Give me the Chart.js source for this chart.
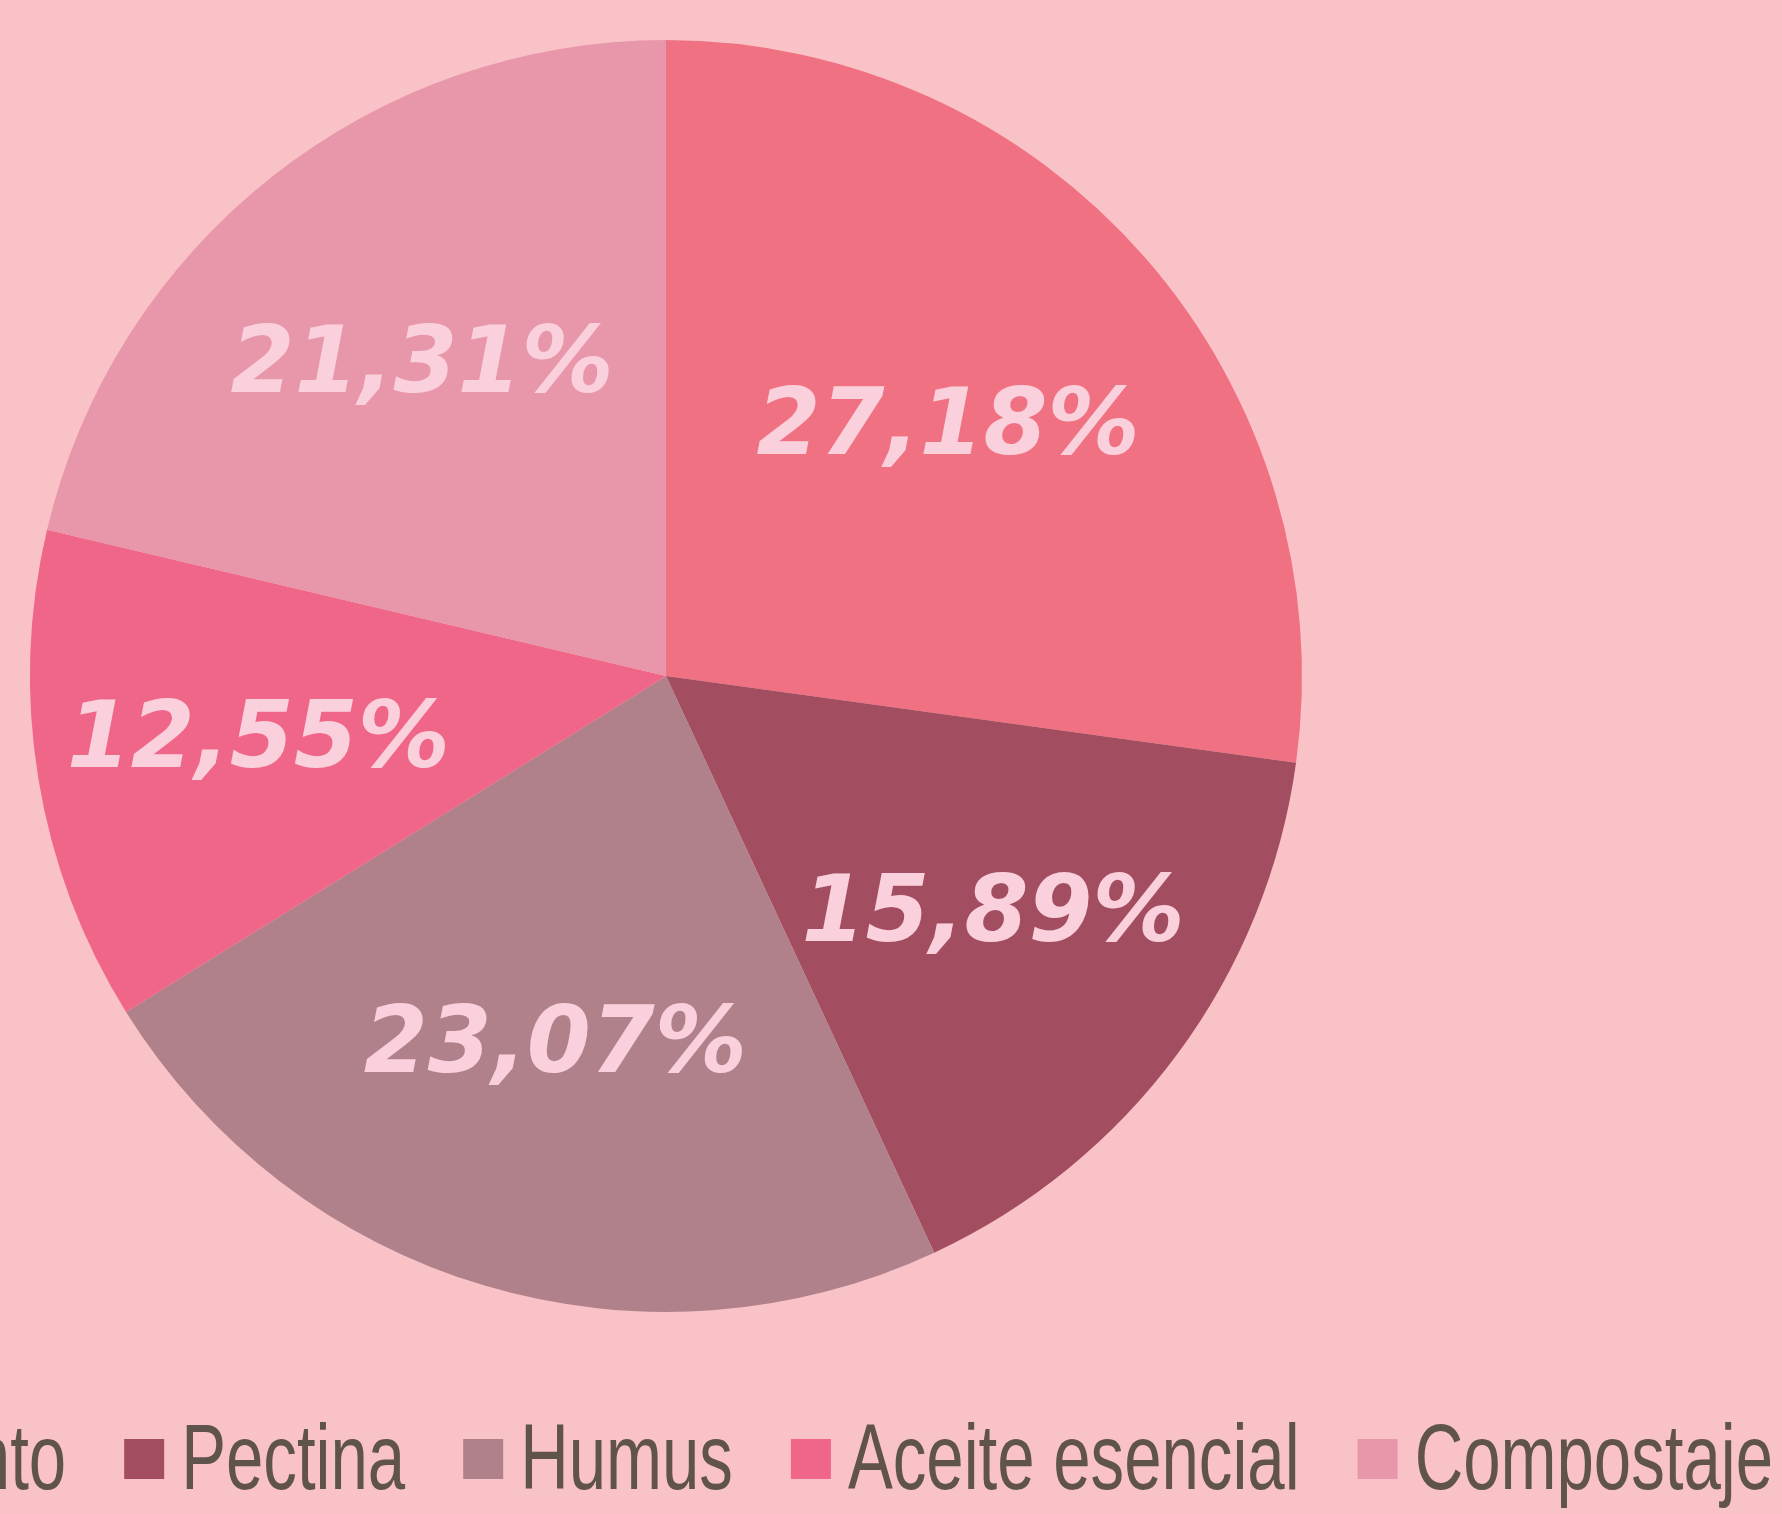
<!DOCTYPE html>
<html>
<head>
<meta charset="utf-8">
<script src="https://cdn.jsdelivr.net/npm/chart.js@4.4.1/dist/chart.umd.min.js"></script>
<style>
  html, body { margin: 0; padding: 0; background: #f9c2c6; overflow: hidden; }
  #wrap { position: relative; width: 1782px; height: 1514px; }
</style>
</head>
<body>
<div id="wrap"><canvas id="c"></canvas></div>
<script>
// ---- data ----
const categories = ['Alimento', 'Pectina', 'Humus', 'Aceite esencial', 'Compostaje'];
const values = [27.18, 15.89, 23.07, 12.55, 21.31];
const valueLabels = ['27,18%', '15,89%', '23,07%', '12,55%', '21,31%'];
const colors = ['#f07282', '#a34e60', '#b1818b', '#f06688', '#e896aa'];

// ---- value labels at each sector's centroid ----
const sliceLabels = {
  id: 'sliceLabels',
  afterDatasetsDraw(chart) {
    const ctx = chart.ctx;
    const meta = chart.getDatasetMeta(0);
    ctx.save();
    ctx.font = 'italic bold 92px "DejaVu Sans", Verdana, sans-serif';
    ctx.fillStyle = '#f9d0dc';
    ctx.textAlign = 'center';
    ctx.textBaseline = 'middle';
    meta.data.forEach((arc, i) => {
      const p = arc.getProps(['x', 'y', 'startAngle', 'endAngle', 'outerRadius'], true);
      const mid = (p.startAngle + p.endAngle) / 2;
      const half = (p.endAngle - p.startAngle) / 2;
      const r = p.outerRadius * (2 * Math.sin(half)) / (3 * half);
      ctx.fillText(valueLabels[i], p.x + Math.cos(mid) * r, p.y + Math.sin(mid) * r);
    });
    ctx.restore();
  }
};

// ---- condensed legend, right aligned ----
const condensedLegend = {
  id: 'condensedLegend',
  afterDraw(chart) {
    const ctx = chart.ctx;
    const sx = 0.73;
    const box = 40, boxGap = 17, itemGap = 58;
    const rightEdge = 1773, baseline = 1489, boxTop = 1439;
    ctx.save();
    ctx.font = '92px "Liberation Sans", Arial, sans-serif';
    ctx.textBaseline = 'alphabetic';
    const labels = chart.data.labels;
    const bg = chart.data.datasets[0].backgroundColor;
    let x = rightEdge;
    for (let i = labels.length - 1; i >= 0; i--) {
      const w = ctx.measureText(labels[i]).width * sx;
      const tx = x - w;
      ctx.save();
      ctx.translate(tx, baseline);
      ctx.scale(sx, 1);
      ctx.fillStyle = '#5f534b';
      ctx.fillText(labels[i], 0, 0);
      ctx.restore();
      const bx = tx - boxGap - box;
      ctx.fillStyle = bg[i];
      ctx.fillRect(bx, boxTop, box, box);
      x = bx - itemGap;
    }
    ctx.restore();
  }
};

new Chart(document.getElementById('c'), {
  type: 'pie',
  data: {
    labels: categories,
    datasets: [{
      data: values,
      backgroundColor: colors,
      borderWidth: 0
    }]
  },
  options: {
    responsive: true,
    maintainAspectRatio: false,
    animation: false,
    layout: { padding: { left: 30, right: 480, top: 40, bottom: 202 } },
    plugins: {
      legend: { display: false },
      tooltip: { enabled: false }
    }
  },
  plugins: [sliceLabels, condensedLegend]
});
</script>
</body>
</html>
